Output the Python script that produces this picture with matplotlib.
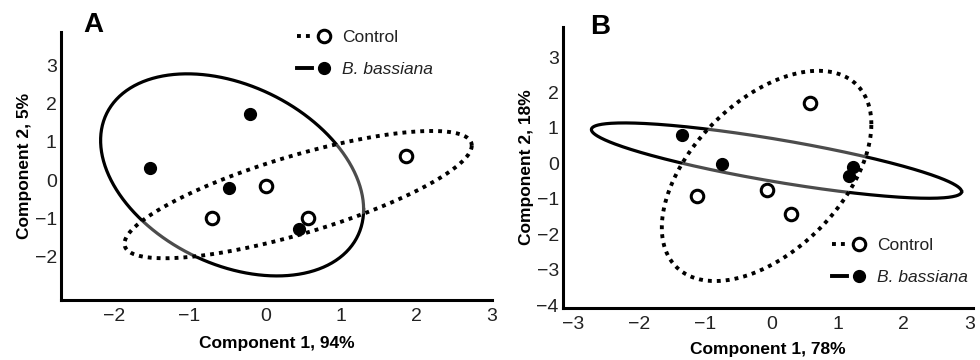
import numpy as np
import matplotlib
matplotlib.use('Agg')
import matplotlib.pyplot as plt
from matplotlib.lines import Line2D
from matplotlib.legend_handler import HandlerTuple

plt.rcParams['font.family'] = ['Liberation Sans', 'DejaVu Sans']

# panel A scores (component 1, component 2)
ctrl_a_x = [-0.70, 0.01, 0.57, 1.86]
ctrl_a_y = [-1.00, -0.15, -1.00, 0.63]
bb_a_x = [-1.52, -0.20, -0.48, 0.45]
bb_a_y = [0.31, 1.72, -0.22, -1.27]

# panel B scores
ctrl_b_x = [-1.12, -0.06, 0.30, 0.59]
ctrl_b_y = [-0.92, -0.75, -1.44, 1.70]
bb_b_x = [-1.35, -0.74, 1.23, 1.17]
bb_b_y = [0.80, -0.02, -0.10, -0.36]

labels = ['Control', 'B. bassiana']

K95 = np.sqrt(5.991)  # 95% chi2, 2 dof


def ellipse_xy(x, y, k=K95, n=400):
    x = np.asarray(x); y = np.asarray(y)
    cov = np.cov(x, y, bias=True)
    L = np.linalg.cholesky(cov)
    t = np.linspace(0, 2*np.pi, n)
    circ = np.vstack([np.cos(t), np.sin(t)])
    pts = k * L @ circ
    return x.mean() + pts[0], y.mean() + pts[1]


DOT = (0, (1, 1.3))
LW_DOT = 2.8
LW_SOL = 2.3


def draw_panel(ax, cx, cy, bx, by):
    ex, ey = ellipse_xy(bx, by)
    ax.plot(ex, ey, color='black', lw=LW_SOL, zorder=2)
    ex, ey = ellipse_xy(cx, cy)
    # translucent white inside the control ellipse greys the solid line
    ax.fill(ex, ey, color='white', alpha=0.3, lw=0, zorder=2.5)
    ax.plot(ex, ey, color='black', lw=LW_DOT, linestyle=DOT, zorder=2.6)
    ax.plot(cx, cy, 'o', ms=9, mfc='white', mec='black', mew=2.2, zorder=3)
    ax.plot(bx, by, 'o', ms=8.5, mfc='black', mec='black', zorder=3)
    for s in ['top', 'right']:
        ax.spines[s].set_visible(False)
    for s in ['left', 'bottom']:
        ax.spines[s].set_linewidth(2.2)
    ax.tick_params(length=0, labelsize=14, colors='#222222')
    ax.tick_params(axis='x', pad=6)
    ax.tick_params(axis='y', pad=3)


def add_legend(ax, fig, anchor):
    h1 = (Line2D([], [], color='black', lw=LW_DOT, linestyle=DOT),
          Line2D([], [], ls='', marker='o', ms=9, mfc='white', mec='black', mew=2.2))
    h2 = (Line2D([], [], color='black', lw=LW_DOT),
          Line2D([], [], ls='', marker='o', ms=8.5, mfc='black', mec='black'))
    leg = ax.legend([h1, h2], labels, handler_map={tuple: HandlerTuple(ndivide=None, pad=0.3)},
                    loc='upper left', bbox_to_anchor=anchor, bbox_transform=fig.transFigure,
                    frameon=False, borderpad=0, borderaxespad=0, handlelength=2.0,
                    handletextpad=0.58, labelspacing=0.97, fontsize=12.5)
    leg.get_texts()[1].set_fontstyle('italic')
    for t in leg.get_texts():
        t.set_color('#222222')


fig = plt.figure(figsize=(9.8, 3.6), dpi=100)
axA = fig.add_axes([0.0622, 0.1667, 0.44, 0.744])
axB = fig.add_axes([0.5745, 0.1444, 0.4185, 0.7806])

draw_panel(axA, ctrl_a_x, ctrl_a_y, bb_a_x, bb_a_y)
axA.set_xlim(-2.7, 3.0)
axA.set_ylim(-3.13, 3.86)
axA.set_xticks([-2, -1, 0, 1, 2, 3])
axA.set_yticks([-2, -1, 0, 1, 2, 3])
axA.set_xlabel('Component 1, 94%', fontsize=12.5, fontweight='bold', labelpad=8)
axA.set_ylabel('Component 2, 5%', fontsize=12.5, fontweight='bold', labelpad=2)
add_legend(axA, fig, (0.303, 0.917))

draw_panel(axB, ctrl_b_x, ctrl_b_y, bb_b_x, bb_b_y)
axB.set_xlim(-3.15, 3.05)
axB.set_ylim(-4.08, 3.85)
axB.set_xticks([-3, -2, -1, 0, 1, 2, 3])
axB.set_yticks([-4, -3, -2, -1, 0, 1, 2, 3])
axB.set_xlabel('Component 1, 78%', fontsize=12.5, fontweight='bold', labelpad=6)
axB.set_ylabel('Component 2, 18%', fontsize=12.5, fontweight='bold', labelpad=2)
add_legend(axB, fig, (0.849, 0.339))

fig.text(0.085, 0.93, 'A', fontsize=20, fontweight='bold', va='center')
fig.text(0.602, 0.925, 'B', fontsize=20, fontweight='bold', va='center')

fig.savefig('out.png', dpi=100)
